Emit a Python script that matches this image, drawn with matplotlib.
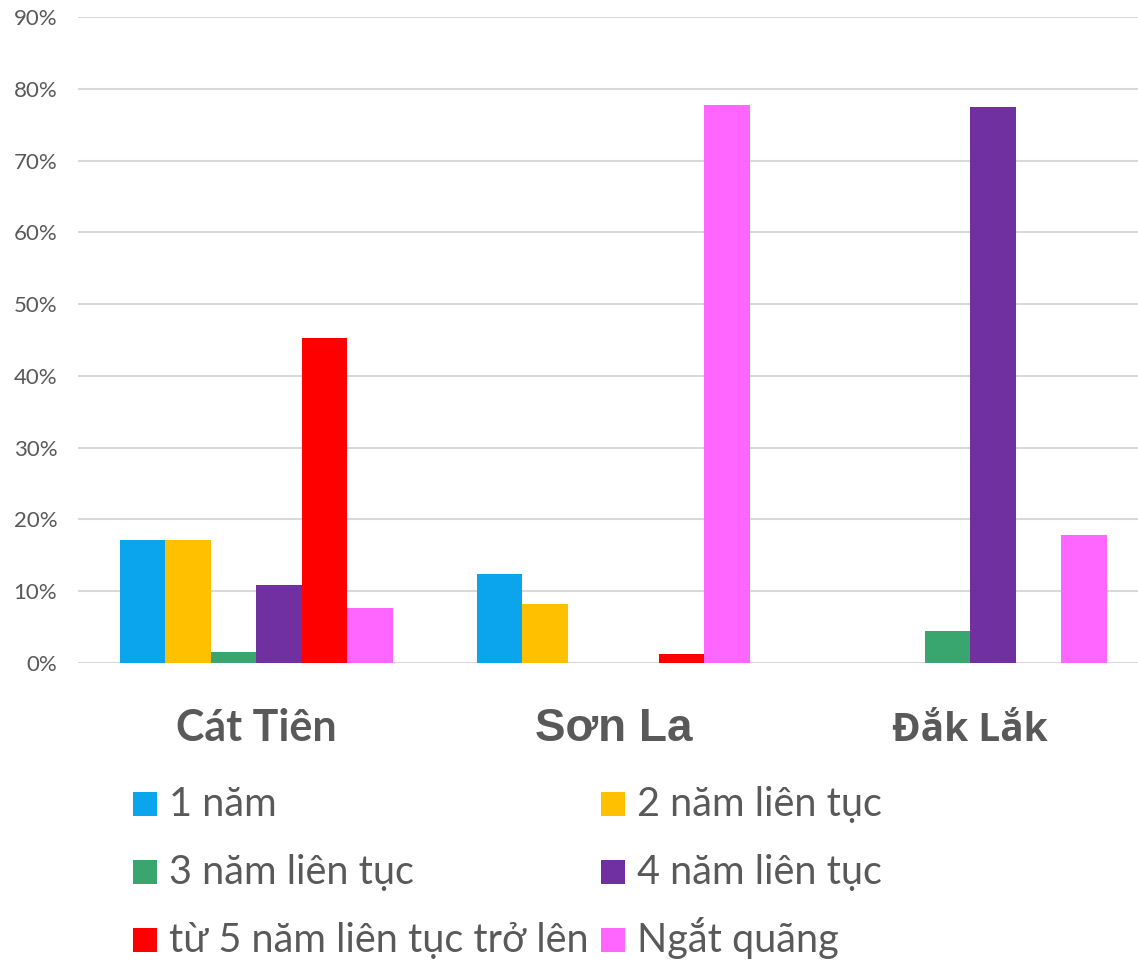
import numpy as np
import matplotlib.pyplot as plt
from matplotlib.patches import Rectangle
from matplotlib.ticker import PercentFormatter

regions = ['Cát Tiên', 'Sơn La', 'Đắk Lắk']
series = ['1 năm', '2 năm liên tục', '3 năm liên tục', '4 năm liên tục',
          'từ 5 năm liên tục trở lên', 'Ngắt quãng']
values = {
    '1 năm': [17.1, 12.4, 0.0],
    '2 năm liên tục': [17.1, 8.2, 0.0],
    '3 năm liên tục': [1.5, 0.0, 4.4],
    '4 năm liên tục': [10.9, 0.0, 77.4],
    'từ 5 năm liên tục trở lên': [45.3, 1.3, 0.0],
    'Ngắt quãng': [7.7, 77.7, 17.8],
}
colors = ['#0AA5EC', '#FFC000', '#38A66E', '#7030A0', '#FF0000', '#FF66FF']

plt.rcParams['font.family'] = ['Lato', 'DejaVu Sans']
gray = '#595959'
W, H = 1138, 960

fig = plt.figure(figsize=(W / 100, H / 100), dpi=100)
ax = fig.add_axes([78 / W, 1 - 663 / H, 1 - 78 / W, (663 - 17) / H])

x = np.arange(len(regions))
w = 0.1275
for i, (name, c) in enumerate(zip(series, colors)):
    ax.bar(x + (i - 2.5) * w, np.array(values[name]) / 100, w, color=c, label=name, zorder=3)

ax.set_xlim(-0.5, 2.47)
ax.set_ylim(0, 0.9)
ax.set_yticks(np.arange(0, 0.91, 0.1))
ax.yaxis.set_major_formatter(PercentFormatter(1.0, decimals=0))
ax.grid(axis='y', color='#D9D9D9', linewidth=1.5, zorder=0)
for s in ax.spines.values():
    s.set_visible(False)
ax.tick_params(axis='y', length=0, pad=15, labelsize=16, labelcolor=gray)
ax.tick_params(axis='x', length=0, pad=56)

ax.set_xticks(x)
ax.set_xticklabels(regions)
fams = ['Lato', 'Liberation Sans', 'Open Sans']
sizes = [31, 33, 28]
for lab, fam, sz in zip(ax.get_xticklabels(), fams, sizes):
    lab.set_fontfamily([fam, 'DejaVu Sans'])
    lab.set_fontweight('bold')
    lab.set_fontsize(sz)
    lab.set_color(gray)
    lab.set_verticalalignment('baseline')

# legend drawn by hand: 2 columns, row-major
col_x = [133, 601]
row_base = [816, 884, 952]
for i, (name, c) in enumerate(zip(series, colors)):
    r, k = divmod(i, 2)
    x0 = col_x[k]
    y0 = row_base[r]
    fig.add_artist(Rectangle((x0 / W, 1 - y0 / H), 24 / W, 24 / H,
                             transform=fig.transFigure, color=c, lw=0))
    fig.text((x0 + 36) / W, 1 - y0 / H, name, fontsize=28.5, color=gray,
             va='baseline', ha='left')

fig.savefig('out.png', dpi=100)
